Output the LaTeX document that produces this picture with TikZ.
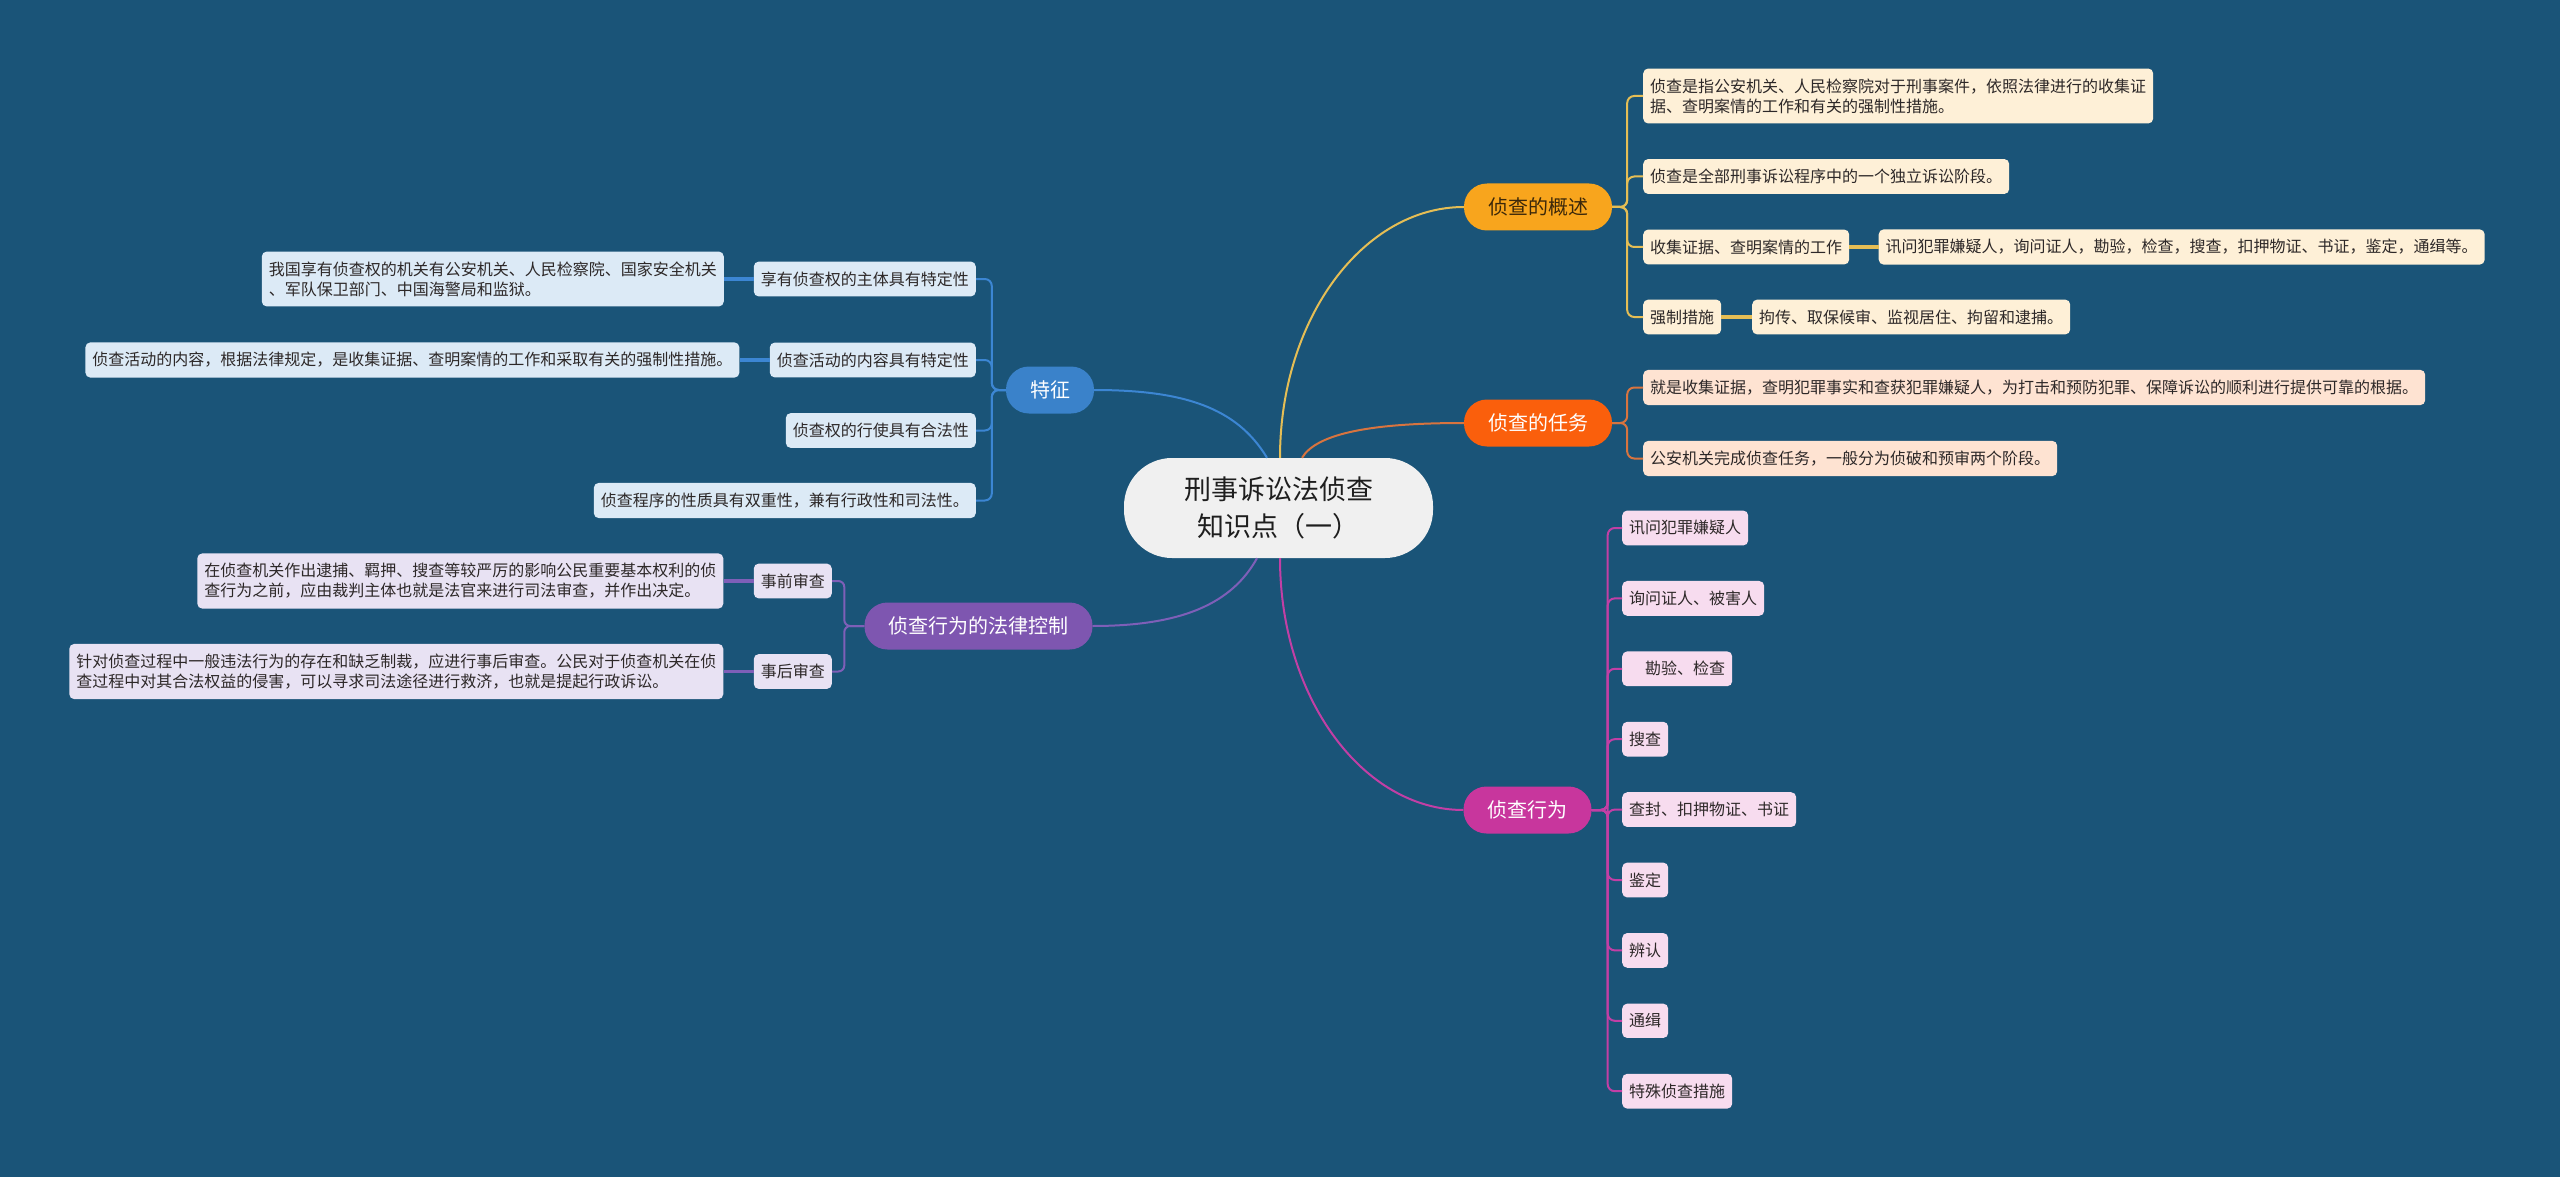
\documentclass[tikz,border=0pt]{standalone}
\usepackage{fontspec}
\setmainfont{Noto Sans CJK SC}
\usepackage{tikz}

\begin{document}
\begin{tikzpicture}[x=1pt,y=1pt,yscale=-1,
	leaf/.style={rounded corners=5pt, inner xsep=7pt, inner ysep=10pt, align=left, font=\fontsize{16}{20}\selectfont, text={rgb, 255:red, 45; green, 40; blue, 40 }},
	topic/.style={rounded corners=23pt, inner xsep=24pt, minimum height=47pt, font=\fontsize{20}{24}\selectfont, text=white},
	spine/.style={line width=2pt, rounded corners=7pt},
	link/.style={line width=3.5pt}]
	%uncomment if require: \path (0,1177); %set diagram left start at 0, and has height of 1177
	\useasboundingbox (0,0) rectangle (2560,1177);
	\fill [fill={rgb, 255:red, 26; green, 84; blue, 120 }] (0,0) rectangle (2560,1177);
	
	%Shape: Root 
	\node [fill={rgb, 255:red, 240; green, 240; blue, 240 }, rounded corners=48pt, minimum width=309pt, minimum height=100pt, align=center, font=\fontsize{27}{37}\selectfont, text={rgb, 255:red, 30; green, 30; blue, 30 }] (root) at (1278.5,508) {刑事诉讼法侦查\\知识点（一）};
	
	%Shape: Topics 
	\node [topic, fill={rgb, 255:red, 248; green, 165; blue, 29 }, text={rgb, 255:red, 60; green, 40; blue, 10 }] (gai) at (1538,207) {侦查的概述};
	\node [topic, fill={rgb, 255:red, 250; green, 95; blue, 12 }] (ren) at (1538,423) {侦查的任务};
	\node [topic, fill={rgb, 255:red, 200; green, 54; blue, 157 }] (xw) at (1527.5,810) {侦查行为};
	\node [topic, fill={rgb, 255:red, 58; green, 130; blue, 202 }] (tz) at (1050,390) {特征};
	\node [topic, fill={rgb, 255:red, 126; green, 86; blue, 176 }] (fl) at (978.5,626) {侦查行为的法律控制};
	
	%Curves: root to topics 
	\draw [line width=2pt, color={rgb, 255:red, 229; green, 190; blue, 85 }] ([xshift=1.5]root.north) .. controls +(0,-140) and +(-100,0) .. (gai.west);
	\draw [line width=2pt, color={rgb, 255:red, 216; green, 116; blue, 63 }] ([xshift=23.5]root.north) .. controls +(15,-25) and +(-90,0) .. (ren.west);
	\draw [line width=2pt, color={rgb, 255:red, 60; green, 134; blue, 211 }] ([xshift=-11.5]root.north) .. controls +(-30,-50) and +(90,0) .. (tz.east);
	\draw [line width=2pt, color={rgb, 255:red, 126; green, 95; blue, 184 }] ([xshift=-21.5]root.south) .. controls +(-25,45) and +(90,0) .. (fl.east);
	\draw [line width=2pt, color={rgb, 255:red, 194; green, 63; blue, 165 }] ([xshift=1.5]root.south) .. controls +(0,140) and +(-100,0) .. (xw.west);
	
	%Shape: Overview leaves 
	\node [leaf, anchor=west, fill={rgb, 255:red, 254; green, 240; blue, 215 }] (g1) at (1643,96) {侦查是指公安机关、人民检察院对于刑事案件，依照法律进行的收集证\\据、查明案情的工作和有关的强制性措施。};
	\node [leaf, anchor=west, fill={rgb, 255:red, 254; green, 240; blue, 215 }] (g2) at (1643,176.5) {侦查是全部刑事诉讼程序中的一个独立诉讼阶段。};
	\node [leaf, anchor=west, fill={rgb, 255:red, 254; green, 240; blue, 215 }] (g3) at (1643,247) {收集证据、查明案情的工作};
	\node [leaf, anchor=west, fill={rgb, 255:red, 254; green, 240; blue, 215 }] (g3a) at (1878.5,247) {讯问犯罪嫌疑人，询问证人，勘验，检查，搜查，扣押物证、书证，鉴定，通缉等。};
	\node [leaf, anchor=west, fill={rgb, 255:red, 254; green, 240; blue, 215 }] (g4) at (1643,317) {强制措施};
	\node [leaf, anchor=west, fill={rgb, 255:red, 254; green, 240; blue, 215 }] (g4a) at (1752,317) {拘传、取保候审、监视居住、拘留和逮捕。};
	\begin{scope}[color={rgb, 255:red, 229; green, 190; blue, 85 }]
		\draw [spine] (gai.east) -- ++(15,0) |- (g1.west);
		\draw [spine] (gai.east) -- ++(15,0) |- (g2.west);
		\draw [spine] (gai.east) -- ++(15,0) |- (g3.west);
		\draw [spine] (gai.east) -- ++(15,0) |- (g4.west);
		\draw [link] (g3.east) -- (g3a.west);
		\draw [link] (g4.east) -- (g4a.west);
	\end{scope}
	
	%Shape: Task leaves 
	\node [leaf, anchor=west, fill={rgb, 255:red, 254; green, 227; blue, 210 }] (r1) at (1643,387.5) {就是收集证据，查明犯罪事实和查获犯罪嫌疑人，为打击和预防犯罪、保障诉讼的顺利进行提供可靠的根据。};
	\node [leaf, anchor=west, fill={rgb, 255:red, 254; green, 227; blue, 210 }] (r2) at (1643,458.5) {公安机关完成侦查任务，一般分为侦破和预审两个阶段。};
	\draw [spine, color={rgb, 255:red, 216; green, 116; blue, 63 }] (ren.east) -- ++(15,0) |- (r1.west);
	\draw [spine, color={rgb, 255:red, 216; green, 116; blue, 63 }] (ren.east) -- ++(15,0) |- (r2.west);
	
	%Shape: Action leaves 
	\foreach \i/\t in {1/讯问犯罪嫌疑人, 2/询问证人、被害人, 3/　勘验、检查, 4/搜查, 5/查封、扣押物证、书证, 6/鉴定, 7/辨认, 8/通缉, 9/特殊侦查措施} {
		\node [leaf, anchor=west, fill={rgb, 255:red, 247; green, 220; blue, 239 }] (a\i) at (1622,457.6+70.4*\i) {\t};
		\draw [spine, color={rgb, 255:red, 194; green, 63; blue, 165 }] (xw.east) -- ++(16,0) |- (a\i.west);
	}
	
	%Shape: Feature leaves 
	\node [leaf, anchor=east, fill={rgb, 255:red, 220; green, 234; blue, 246 }] (f1) at (976,279) {享有侦查权的主体具有特定性};
	\node [leaf, anchor=east, fill={rgb, 255:red, 220; green, 234; blue, 246 }] (f1a) at (724,279) {我国享有侦查权的机关有公安机关、人民检察院、国家安全机关\\、军队保卫部门、中国海警局和监狱。};
	\node [leaf, anchor=east, fill={rgb, 255:red, 220; green, 234; blue, 246 }] (f2) at (976,360) {侦查活动的内容具有特定性};
	\node [leaf, anchor=east, fill={rgb, 255:red, 220; green, 234; blue, 246 }] (f2a) at (739.6,360) {侦查活动的内容，根据法律规定，是收集证据、查明案情的工作和采取有关的强制性措施。};
	\node [leaf, anchor=east, fill={rgb, 255:red, 220; green, 234; blue, 246 }] (f3) at (976,430.5) {侦查权的行使具有合法性};
	\node [leaf, anchor=east, fill={rgb, 255:red, 220; green, 234; blue, 246 }] (f4) at (976,500.5) {侦查程序的性质具有双重性，兼有行政性和司法性。};
	\begin{scope}[color={rgb, 255:red, 60; green, 134; blue, 211 }]
		\foreach \n in {f1,f2,f3,f4}
			\draw [spine] (tz.west) -- ++(-14,0) |- (\n.east);
		\draw [link] (f1.west) -- (f1a.east);
		\draw [link] (f2.west) -- (f2a.east);
	\end{scope}
	
	%Shape: Control leaves 
	\node [leaf, anchor=east, fill={rgb, 255:red, 232; green, 226; blue, 243 }] (c1) at (832,581) {事前审查};
	\node [leaf, anchor=east, fill={rgb, 255:red, 232; green, 226; blue, 243 }] (c1a) at (723.5,581) {在侦查机关作出逮捕、羁押、搜查等较严厉的影响公民重要基本权利的侦\\查行为之前，应由裁判主体也就是法官来进行司法审查，并作出决定。};
	\node [leaf, anchor=east, fill={rgb, 255:red, 232; green, 226; blue, 243 }] (c2) at (832,671.5) {事后审查};
	\node [leaf, anchor=east, fill={rgb, 255:red, 232; green, 226; blue, 243 }] (c2a) at (723.5,671.5) {针对侦查过程中一般违法行为的存在和缺乏制裁，应进行事后审查。公民对于侦查机关在侦\\查过程中对其合法权益的侵害，可以寻求司法途径进行救济，也就是提起行政诉讼。};
	\begin{scope}[color={rgb, 255:red, 126; green, 95; blue, 184 }]
		\draw [spine, rounded corners=6pt] (fl.west) -- ++(-20,0) |- (c1.east);
		\draw [spine, rounded corners=6pt] (fl.west) -- ++(-20,0) |- (c2.east);
		\draw [link] (c1.west) -- (c1a.east);
		\draw [link] (c2.west) -- (c2a.east);
	\end{scope}
	
\end{tikzpicture}
\end{document}
